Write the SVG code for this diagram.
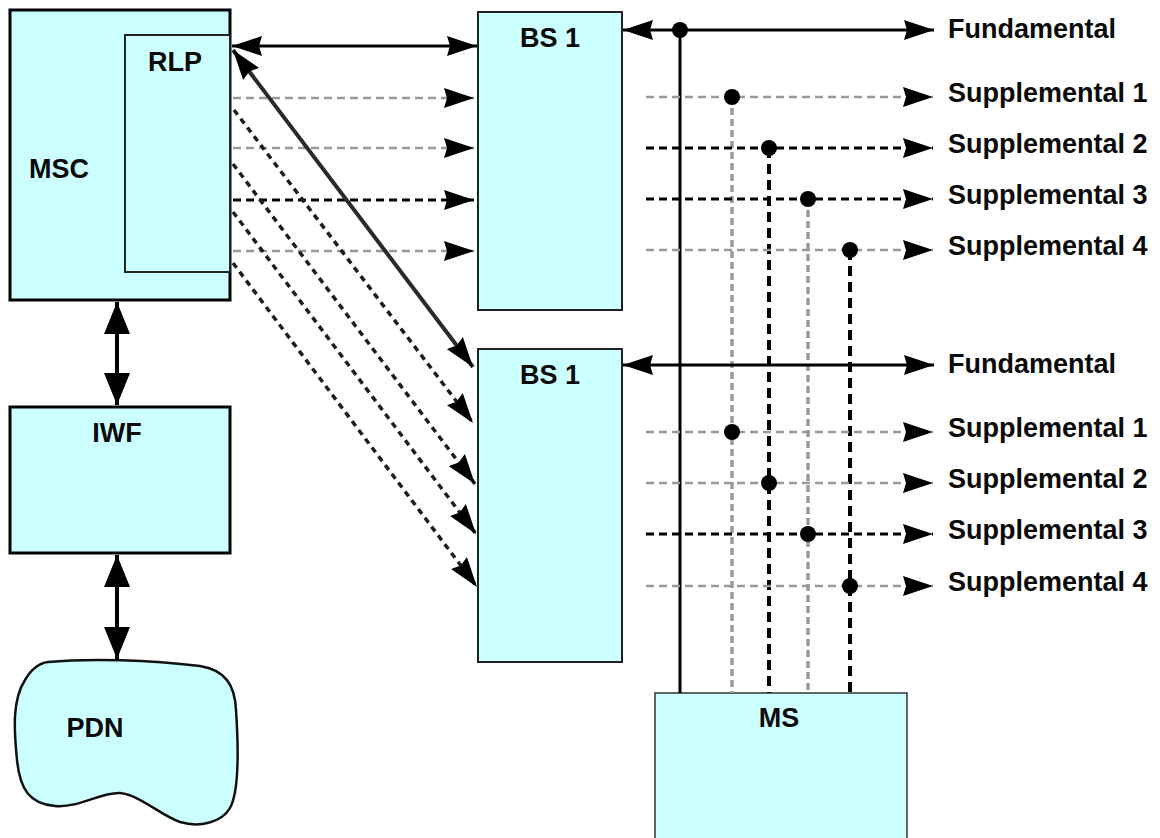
<svg xmlns="http://www.w3.org/2000/svg" width="1160" height="838" viewBox="0 0 1160 838">
<style>
.box{fill:#ccffff;stroke:#000;stroke-width:3}
.thin{fill:#ccffff;stroke:#333;stroke-width:1.5}
.lbl{font-family:"Liberation Sans",Arial,sans-serif;font-weight:bold;font-size:27px;fill:#0a0a0a}
.solid{stroke:#000;stroke-width:3;fill:none}
.g{stroke:#999;stroke-width:2.5;stroke-dasharray:8 5;fill:none}
.k{stroke:#000;stroke-width:3;stroke-dasharray:8 5;fill:none}
.gv{stroke:#9a9a9a;stroke-width:3.5;stroke-dasharray:7 4;fill:none}
.kv{stroke:#000;stroke-width:4;stroke-dasharray:10 6;fill:none}
.diag{stroke:#1e1e1e;stroke-width:3.5;stroke-dasharray:6 5;fill:none}
.dot{fill:#000}
</style>
<defs>
<marker id="ah" viewBox="0 0 30 20" refX="30" refY="10" markerWidth="30" markerHeight="20" markerUnits="userSpaceOnUse" orient="auto-start-reverse">
<path d="M0,0 L30,10 L0,20 L3,10 Z" fill="#000"/>
</marker>
<marker id="big" viewBox="0 0 32 26" refX="32" refY="13" markerWidth="32" markerHeight="26" markerUnits="userSpaceOnUse" orient="auto-start-reverse">
<path d="M0,0 L32,13 L0,26 Z" fill="#000"/>
</marker>
</defs>

<g id="MSC">
<rect class="box" x="10" y="10" width="220" height="290"/>
<text class="lbl" x="29" y="178">MSC</text>
</g>
<g id="RLP">
<rect x="125" y="35" width="105" height="237" fill="#ccffff" stroke="#222" stroke-width="2"/>
<text class="lbl" x="148" y="71">RLP</text>
</g>
<g id="IWF">
<rect class="box" x="10" y="407" width="220" height="146"/>
<text class="lbl" x="117" y="442" text-anchor="middle">IWF</text>
</g>
<g id="PDN">
<path d="M48,662 C90,658 150,660 200,666 C225,670 235,685 236,710 C238,740 240,790 230,808 C222,822 200,828 180,822 C160,815 140,795 120,793 C100,792 80,808 55,806 C30,804 20,790 17,760 C14,730 12,700 25,680 C32,668 40,663 48,662 Z" fill="#ccffff" stroke="#111" stroke-width="2.5"/>
<text class="lbl" x="95" y="737" text-anchor="middle">PDN</text>
</g>
<g id="BS1a">
<rect x="478" y="12" width="144" height="298" fill="#ccffff" stroke="#222" stroke-width="2"/>
<text class="lbl" x="550" y="47" text-anchor="middle">BS 1</text>
</g>
<g id="BS1b">
<rect x="478" y="349" width="144" height="313" fill="#ccffff" stroke="#222" stroke-width="2"/>
<text class="lbl" x="550" y="384" text-anchor="middle">BS 1</text>
</g>
<g id="MS">
<rect class="thin" x="655" y="693" width="252" height="150"/>
<text class="lbl" x="779" y="727" text-anchor="middle">MS</text>
</g>

<g id="connectors">
<line x1="117" y1="302" x2="117" y2="405" stroke="#000" stroke-width="4" marker-start="url(#big)" marker-end="url(#big)"/>
<line x1="117" y1="555" x2="117" y2="659" stroke="#000" stroke-width="4" marker-start="url(#big)" marker-end="url(#big)"/>
<line class="solid" x1="232" y1="46" x2="477" y2="46" marker-start="url(#ah)" marker-end="url(#ah)"/>
<line class="g" x1="233" y1="98" x2="474" y2="98" marker-end="url(#ah)"/>
<line class="g" x1="233" y1="148" x2="474" y2="148" marker-end="url(#ah)"/>
<line class="k" x1="233" y1="200" x2="474" y2="200" marker-end="url(#ah)"/>
<line class="g" x1="233" y1="251" x2="474" y2="251" marker-end="url(#ah)"/>
<line x1="233" y1="50" x2="473" y2="367" stroke="#2a2a2a" stroke-width="4" marker-start="url(#ah)" marker-end="url(#ah)"/>
<line class="diag" x1="234" y1="110" x2="473" y2="423" marker-end="url(#ah)"/>
<line class="diag" x1="233" y1="164" x2="475" y2="484" marker-end="url(#ah)"/>
<line class="diag" x1="233" y1="212" x2="476" y2="534" marker-end="url(#ah)"/>
<line class="diag" x1="233" y1="263" x2="477" y2="587" marker-end="url(#ah)"/>
<line class="solid" x1="680" y1="30" x2="680" y2="693"/>
<line class="gv" x1="732" y1="97" x2="732" y2="693"/>
<line class="kv" x1="769" y1="148" x2="769" y2="693"/>
<line class="gv" x1="808" y1="199" x2="808" y2="693"/>
<line class="kv" x1="850" y1="250" x2="850" y2="693"/>
<line class="solid" x1="623" y1="30" x2="934" y2="30" marker-start="url(#ah)" marker-end="url(#ah)"/>
<line class="g" x1="646" y1="97" x2="933" y2="97" marker-end="url(#ah)"/>
<line class="k" x1="646" y1="148" x2="933" y2="148" marker-end="url(#ah)"/>
<line class="k" x1="646" y1="199" x2="933" y2="199" marker-end="url(#ah)"/>
<line class="g" x1="646" y1="250" x2="933" y2="250" marker-end="url(#ah)"/>
<line class="solid" x1="623" y1="365" x2="934" y2="365" marker-start="url(#ah)" marker-end="url(#ah)"/>
<line class="g" x1="646" y1="432" x2="933" y2="432" marker-end="url(#ah)"/>
<line class="g" x1="646" y1="483" x2="933" y2="483" marker-end="url(#ah)"/>
<line class="k" x1="646" y1="534" x2="933" y2="534" marker-end="url(#ah)"/>
<line class="g" x1="646" y1="586" x2="933" y2="586" marker-end="url(#ah)"/>
<circle class="dot" cx="680" cy="30" r="8"/>
<circle class="dot" cx="732" cy="97" r="8"/>
<circle class="dot" cx="769" cy="148" r="8"/>
<circle class="dot" cx="808" cy="199" r="8"/>
<circle class="dot" cx="850" cy="250" r="8"/>
<circle class="dot" cx="732" cy="432" r="8"/>
<circle class="dot" cx="769" cy="483" r="8"/>
<circle class="dot" cx="808" cy="534" r="8"/>
<circle class="dot" cx="850" cy="586" r="8"/>
</g>

<g id="labels">
<text class="lbl" x="948" y="38">Fundamental</text>
<text class="lbl" x="948" y="102">Supplemental 1</text>
<text class="lbl" x="948" y="153">Supplemental 2</text>
<text class="lbl" x="948" y="204">Supplemental 3</text>
<text class="lbl" x="948" y="255">Supplemental 4</text>
<text class="lbl" x="948" y="373">Fundamental</text>
<text class="lbl" x="948" y="437">Supplemental 1</text>
<text class="lbl" x="948" y="488">Supplemental 2</text>
<text class="lbl" x="948" y="539">Supplemental 3</text>
<text class="lbl" x="948" y="591">Supplemental 4</text>
</g>
</svg>
